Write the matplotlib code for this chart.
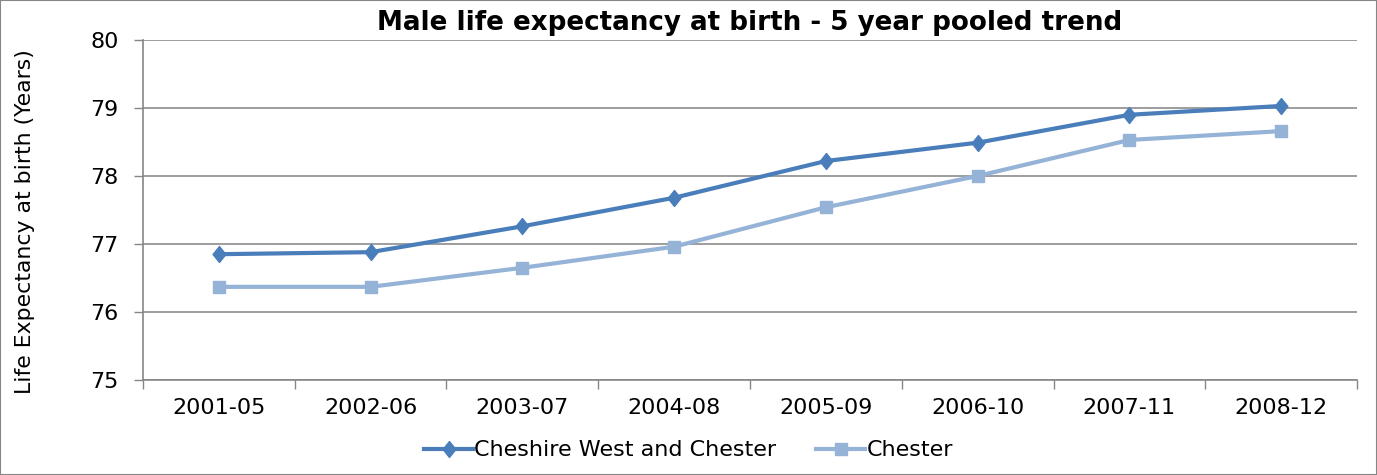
import matplotlib.pyplot as plt
from matplotlib.path import Path
import numpy as np

plt.rcParams['font.family'] = ['DejaVu Sans']

periods = ['2001-05', '2002-06', '2003-07', '2004-08', '2005-09', '2006-10', '2007-11', '2008-12']
cwac = [76.85, 76.88, 77.26, 77.68, 78.22, 78.49, 78.90, 79.03]
chester = [76.37, 76.37, 76.65, 76.96, 77.54, 78.00, 78.53, 78.66]

# slightly tall diamond like the Excel marker
tall_diamond = Path([(0, 1), (0.8, 0), (0, -1), (-0.8, 0), (0, 1)],
                    [Path.MOVETO, Path.LINETO, Path.LINETO, Path.LINETO, Path.CLOSEPOLY])

fig = plt.figure(figsize=(13.77, 4.75), dpi=100)
ax = fig.add_axes([0.1038, 0.2, 0.8817, 0.7158])

x = np.arange(len(periods))
ax.plot(x, cwac, color='#4a7ebb', lw=3, marker=tall_diamond, ms=11.5, label='Cheshire West and Chester')
ax.plot(x, chester, color='#95b3d7', lw=3, marker='s', ms=9, label='Chester')

ax.set_xlim(-0.5, len(periods) - 0.5)
ax.set_ylim(75, 80)
ax.set_yticks(np.arange(75, 81, 1))
ax.set_xticks(x)
ax.set_xticklabels(periods)
ax.set_xticks(np.arange(-0.5, len(periods), 1), minor=True)
ax.tick_params(axis='x', which='major', length=0, pad=13, labelsize=16)
ax.tick_params(axis='x', which='minor', length=6.5, color='#868686', width=1)
ax.tick_params(axis='y', length=6.5, color='#868686', width=1, labelsize=16, pad=11)
ax.grid(axis='y', color='#8c8c8c', lw=1.2)
ax.set_axisbelow(True)
for s in ['top', 'right']:
    ax.spines[s].set_visible(False)
for s in ['left', 'bottom']:
    ax.spines[s].set_color('#868686')
    ax.spines[s].set_linewidth(1.2)

ax.set_ylabel('Life Expectancy at birth (Years)', fontsize=15.8)
ax.yaxis.set_label_coords(-0.089, 0.465)
ax.set_title('Male life expectancy at birth - 5 year pooled trend', fontsize=18.8, fontweight='bold', pad=7)

fig.legend(loc='center', bbox_to_anchor=(0.5, 0.052), ncol=2, frameon=False,
           fontsize=16, handlelength=2.2, columnspacing=1.8, handletextpad=0.05)

fig.patches.append(plt.Rectangle((0, 0), 1, 1, transform=fig.transFigure, fill=False,
                                 edgecolor='#868686', lw=1.5))

plt.savefig('out.png', dpi=100)
